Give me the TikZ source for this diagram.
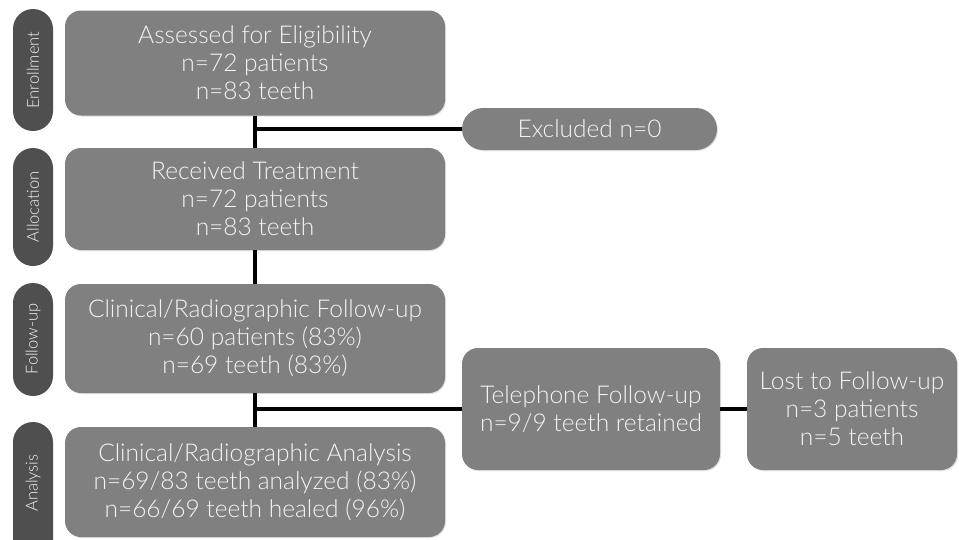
\documentclass[tikz,border=0pt]{standalone}
\usepackage{fontspec}
\setmainfont{Lato}[UprightFont=* Light]
\usetikzlibrary{shadows}
\definecolor{boxgray}{HTML}{808080}
\definecolor{pillgray}{HTML}{4F4F4F}
\definecolor{txt}{HTML}{F4F4F4}
\tikzset{
  stagebox/.style={fill=boxgray, rounded corners=16pt, text=txt, align=center,
    font=\fontsize{24.5}{28}\selectfont, inner sep=0pt, drop shadow={shadow xshift=1pt, shadow yshift=-1pt, opacity=0.25}},
  pill/.style={fill=pillgray, rounded corners=20pt, inner sep=0pt},
  pilltext/.style={text=txt, rotate=90, font=\fontsize{16.5}{18}\selectfont},
  link/.style={line width=3.5pt, draw=black}
}
\begin{document}
\begin{tikzpicture}[x=1pt,y=-1pt]
\clip (0,0) rectangle (959,539);
\fill[white] (0,0) rectangle (959,539);
% stage pills
\path[pill] (13,9) rectangle (53,131);
\node[pilltext] (penr) at (33,70) {Enrollment};
\path[pill] (13,148) rectangle (53,266);
\node[pilltext] (palloc) at (33,207) {Allocation};
\path[pill] (13,283) rectangle (53,396);
\node[pilltext] (pfol) at (33,339) {Follow-up};
\path[pill] (13,422) rectangle (53,560);
\node[pilltext] (pana) at (33,483) {Analysis};
% main boxes
\node[stagebox, minimum width=380pt, minimum height=105pt] (b1) at (255,63) {Assessed for Eligibility\\n=72 patients\\n=83 teeth};
\node[stagebox, minimum width=380pt, minimum height=102pt] (b2) at (255,199) {Received Treatment\\n=72 patients\\n=83 teeth};
\node[stagebox, minimum width=380pt, minimum height=109pt] (b3) at (255,338.5) {Clinical/Radiographic Follow-up\\n=60 patients (83\%)\\n=69 teeth (83\%)};
\node[stagebox, minimum width=380pt, minimum height=110pt] (b4) at (255,482) {Clinical/Radiographic Analysis\\n=69/83 teeth analyzed (83\%)\\n=66/69 teeth healed (96\%)};
% side boxes
\node[stagebox, rounded corners=21pt, minimum width=255pt, minimum height=42pt] (ex) at (589.5,129) {Excluded n=0};
\node[stagebox, minimum width=258pt, minimum height=122pt] (tel) at (591,409) {Telephone Follow-up\\n=9/9 teeth retained};
\node[stagebox, minimum width=210pt, minimum height=122pt] (lost) at (852,409) {Lost to Follow-up\\n=3 patients\\n=5 teeth};
% connectors
\coordinate (j1) at (b1.south |- ex.west);
\coordinate (j2) at (b3.south |- tel.west);
\draw[link] (b1.south) -- (b2.north);
\draw[link] (j1) -- (ex.west);
\draw[link] (b2.south) -- (b3.north);
\draw[link] (b3.south) -- (b4.north);
\draw[link] (j2) -- (tel.west);
\draw[link] (tel.east) -- (lost.west);
\end{tikzpicture}
\end{document}
